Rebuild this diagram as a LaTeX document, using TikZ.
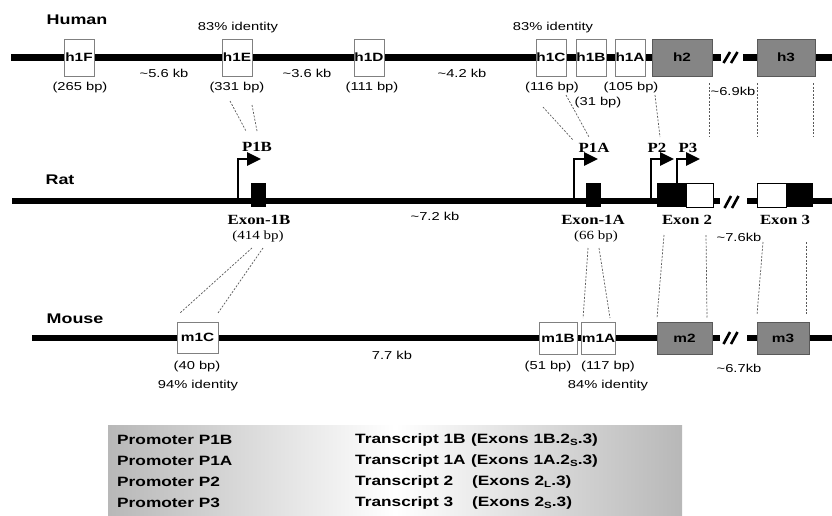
\documentclass[tikz,border=0pt]{standalone}
\usepackage{fontspec}
\usepackage{graphicx}
\setmainfont{Liberation Serif}
\newfontfamily\SF[FakeStretch=1.28]{Liberation Sans}
\newfontfamily\SFb{Liberation Sans}
\newfontfamily\RF[FakeStretch=1.2]{Liberation Serif}
\newfontfamily\RFb{Liberation Serif}
\usetikzlibrary{arrows.meta}
\newcommand{\fsz}[1]{\fontsize{#1}{#1}\selectfont}
\newcommand{\wsb}[1]{\scalebox{1.28}[1]{#1}}
\newcommand{\wrb}[1]{\scalebox{1.2}[1]{#1}}
\newcommand{\subS}[1]{\raisebox{-0.35ex}{\fsz{9}#1}}
\tikzset{
 chrom/.style={line width=6.5pt},
 brk/.style={line width=2.6pt},
 ebox/.style={draw=black!50, fill=white, line width=0.8pt, inner sep=0pt, font=\SFb\bfseries\fsz{12}},
 gbox/.style={ebox, fill=black!48, draw=black!65},
 bbox/.style={fill=black, inner sep=0pt, minimum width=15pt, minimum height=24pt},
 wbox/.style={draw=black, fill=white, line width=0.8pt, inner sep=0pt, minimum height=24pt},
 sm/.style={font=\SF\fsz{11.5}, inner sep=0pt},
 spc/.style={font=\SFb\bfseries\fsz{14}, inner sep=0pt},
 rb/.style={font=\RFb\bfseries\fsz{14}, inner sep=0pt},
 rs/.style={font=\RF\fsz{12.5}, inner sep=0pt},
 conn/.style={draw=black!65, line width=0.7pt, dash pattern=on 2pt off 1.5pt},
 prom/.style={line width=2.6pt, -{Triangle[length=14pt,width=13pt]}},
 tab/.style={font=\SFb\bfseries\fsz{13.5}, anchor=west, inner sep=0pt},
}
\begin{document}
\begin{tikzpicture}[x=1pt,y=-1pt]
\useasboundingbox (0,0) rectangle (832,515);

% ---------- Human ----------
\coordinate (hL) at (11,57.5);
\coordinate (hB1) at (721,57.5);
\coordinate (hB2) at (743,57.5);
\coordinate (hR) at (832,57.5);
\draw[chrom] (hL) -- (hB1);
\draw[chrom] (hB2) -- (hR);
\coordinate (hs1a) at (723.5,63); \coordinate (hs1b) at (730,52);
\coordinate (hs2a) at (731,63); \coordinate (hs2b) at (737.5,52);
\draw[brk] (hs1a) -- (hs1b);
\draw[brk] (hs2a) -- (hs2b);

\node[spc] (human) at (77,20) {\wsb{Human}};
\node[ebox, minimum width=30pt, minimum height=37pt] (h1F) at (79,57.5) {\wsb{h1F}};
\node[ebox, minimum width=30pt, minimum height=37pt] (h1E) at (237,57.5) {\wsb{h1E}};
\node[ebox, minimum width=30pt, minimum height=37pt] (h1D) at (369,57.5) {\wsb{h1D}};
\node[ebox, minimum width=30pt, minimum height=37pt] (h1C) at (551,57.5) {\wsb{h1C}};
\node[ebox, minimum width=30pt, minimum height=37pt] (h1B) at (591,57.5) {\wsb{h1B}};
\node[ebox, minimum width=30pt, minimum height=37pt] (h1A) at (630,57.5) {\wsb{h1A}};
\node[gbox, minimum width=60pt, minimum height=37pt] (h2) at (682,57.5) {\wsb{h2}};
\node[gbox, minimum width=58pt, minimum height=37pt] (h3) at (786,57.5) {\wsb{h3}};

\node[sm] (id1) at (238,28) {83\% identity};
\node[sm] (id2) at (553,28) {83\% identity};
\node[sm] (bp265) at (80,88) {(265 bp)};
\node[sm] (bp331) at (237,88) {(331 bp)};
\node[sm] (bp111) at (372,88) {(111 bp)};
\node[sm] (bp116) at (552,88) {(116 bp)};
\node[sm] (bp31) at (598,103) {(31 bp)};
\node[sm] (bp105) at (631,88) {(105 bp)};
\node[sm] (kb56) at (164,73) {\textasciitilde5.6 kb};
\node[sm] (kb36) at (307,73) {\textasciitilde3.6 kb};
\node[sm] (kb42) at (462,73) {\textasciitilde4.2 kb};
\node[sm] (kb69) at (733,91) {\textasciitilde6.9kb};

% ---------- Rat ----------
\coordinate (rL) at (12,201);
\coordinate (rB1) at (720,201);
\coordinate (rB2) at (747,201);
\coordinate (rR) at (832,201);
\draw[chrom] (rL) -- (rB1);
\draw[chrom] (rB2) -- (rR);
\coordinate (rs1a) at (724.5,208); \coordinate (rs1b) at (731,196);
\coordinate (rs2a) at (732,208); \coordinate (rs2b) at (738.5,196);
\draw[brk] (rs1a) -- (rs1b);
\draw[brk] (rs2a) -- (rs2b);

\node[spc] (rat) at (60,180) {\wsb{Rat}};
\node[bbox] (ex1B) at (258.5,195) {};
\node[bbox] (ex1A) at (593.5,195) {};
\node[bbox, minimum width=29pt] (ex2b) at (671.5,195) {};
\node[wbox, minimum width=27pt] (ex2w) at (699.5,195) {};
\node[wbox, minimum width=29pt] (ex3w) at (771.5,195) {};
\node[bbox, minimum width=27pt] (ex3b) at (799.5,195) {};

% promoters
\coordinate (p1Bs) at (238,201); \coordinate (p1Bt) at (261,159);
\coordinate (p1As) at (574,201); \coordinate (p1At) at (598,159);
\coordinate (p2s) at (651,201);  \coordinate (p2t) at (674,159);
\coordinate (p3s) at (677,184);  \coordinate (p3t) at (700,159);
\draw[prom] (p1Bs) |- (p1Bt);
\draw[prom] (p1As) |- (p1At);
\draw[prom] (p2s) |- (p2t);
\draw[prom] (p3s) |- (p3t);
\node[rb] (lP1B) at (257,147) {\wrb{P1B}};
\node[rb] (lP1A) at (594,148) {\wrb{P1A}};
\node[rb] (lP2) at (657,148) {\wrb{P2}};
\node[rb] (lP3) at (688,148) {\wrb{P3}};

\node[rb] (lex1B) at (259,220) {\wrb{Exon-1B}};
\node[rs] (bp414) at (258,236) {(414 bp)};
\node[sm] (kb72) at (435,216) {\textasciitilde7.2 kb};
\node[rb] (lex1A) at (593,220) {\wrb{Exon-1A}};
\node[rs] (bp66) at (596,236) {(66 bp)};
\node[rb] (lex2) at (687,220) {\wrb{Exon 2}};
\node[rb] (lex3) at (785,220) {\wrb{Exon 3}};
\node[sm] (kb76) at (739,237) {\textasciitilde7.6kb};

% ---------- Mouse ----------
\coordinate (mL) at (32,338);
\coordinate (mB1) at (720,338);
\coordinate (mB2) at (747,338);
\coordinate (mR) at (832,338);
\draw[chrom] (mL) -- (mB1);
\draw[chrom] (mB2) -- (mR);
\coordinate (ms1a) at (723.5,344); \coordinate (ms1b) at (730,332);
\coordinate (ms2a) at (731,344); \coordinate (ms2b) at (737.5,332);
\draw[brk] (ms1a) -- (ms1b);
\draw[brk] (ms2a) -- (ms2b);

\node[spc] (mouse) at (75,319) {\wsb{Mouse}};
\node[ebox, minimum width=41pt, minimum height=31pt] (m1C) at (197.5,337.5) {\wsb{m1C}};
\node[ebox, minimum width=38pt, minimum height=32pt] (m1B) at (558,338) {\wsb{m1B}};
\node[ebox, minimum width=33pt, minimum height=32pt] (m1A) at (598.5,338) {\wsb{m1A}};
\node[gbox, minimum width=55pt, minimum height=32pt] (m2) at (684.5,338) {\wsb{m2}};
\node[gbox, minimum width=52pt, minimum height=32pt] (m3) at (783,338) {\wsb{m3}};

\node[sm] (bp40) at (197,367) {(40 bp)};
\node[sm] (id3) at (198,386) {94\% identity};
\node[sm] (kb77) at (392,355) {7.7 kb};
\node[sm] (bp51) at (548,367) {(51 bp)};
\node[sm] (bp117) at (608,367) {(117 bp)};
\node[sm] (id4) at (608,386) {84\% identity};
\node[sm] (kb67) at (739,368) {\textasciitilde6.7kb};

% ---------- dashed homology connectors ----------
\coordinate (a1) at (230,101); \coordinate (b1) at (246,131);
\coordinate (a2) at (252,105); \coordinate (b2) at (257,131);
\coordinate (a3) at (543,107); \coordinate (b3) at (573,140);
\coordinate (a4) at (566,95);  \coordinate (b4) at (589,137);
\coordinate (a5) at (655,95);  \coordinate (b5) at (660,137);
\coordinate (a6) at (709,83);  \coordinate (b6) at (709,137);
\coordinate (a7) at (757,83);  \coordinate (b7) at (757,137);
\coordinate (a8) at (813,83);  \coordinate (b8) at (813,137);
\foreach \i in {1,...,8} \draw[conn] (a\i) -- (b\i);

\coordinate (c1) at (252,248); \coordinate (d1) at (180,313);
\coordinate (c2) at (263,248); \coordinate (d2) at (218,313);
\coordinate (c3) at (588,248); \coordinate (d3) at (583,318);
\coordinate (c4) at (599,248); \coordinate (d4) at (610,318);
\coordinate (c5) at (664,235); \coordinate (d5) at (657,318);
\coordinate (c6) at (706,235); \coordinate (d6) at (707,318);
\coordinate (c7) at (763,242); \coordinate (d7) at (757,315);
\coordinate (c8) at (806,242); \coordinate (d8) at (806,315);
\foreach \i in {1,...,8} \draw[conn] (c\i) -- (d\i);

% ---------- table ----------
\node[minimum width=574pt, minimum height=90pt, inner sep=0pt,
      left color=black!28, right color=black!28, middle color=white,
      shading angle=90] (tbl) at (395,470) {};
\node[tab] (t1a) at (117,440) {\wsb{Promoter P1B}};
\node[tab] (t2a) at (117,461) {\wsb{Promoter P1A}};
\node[tab] (t3a) at (117,482) {\wsb{Promoter P2}};
\node[tab] (t4a) at (117,503) {\wsb{Promoter P3}};
\node[tab] (t1b) at (355,440) {\wsb{Transcript 1B}};
\node[tab] (t2b) at (355,461) {\wsb{Transcript 1A}};
\node[tab] (t3b) at (355,482) {\wsb{Transcript 2}};
\node[tab] (t4b) at (355,503) {\wsb{Transcript 3}};
\node[tab] (t1c) at (471,440) {\wsb{(Exons 1B.2\subS{S}.3)}};
\node[tab] (t2c) at (471,461) {\wsb{(Exons 1A.2\subS{S}.3)}};
\node[tab] (t3c) at (472,482) {\wsb{(Exons 2\subS{L}.3)}};
\node[tab] (t4c) at (472,503) {\wsb{(Exons 2\subS{S}.3)}};
\end{tikzpicture}
\end{document}
